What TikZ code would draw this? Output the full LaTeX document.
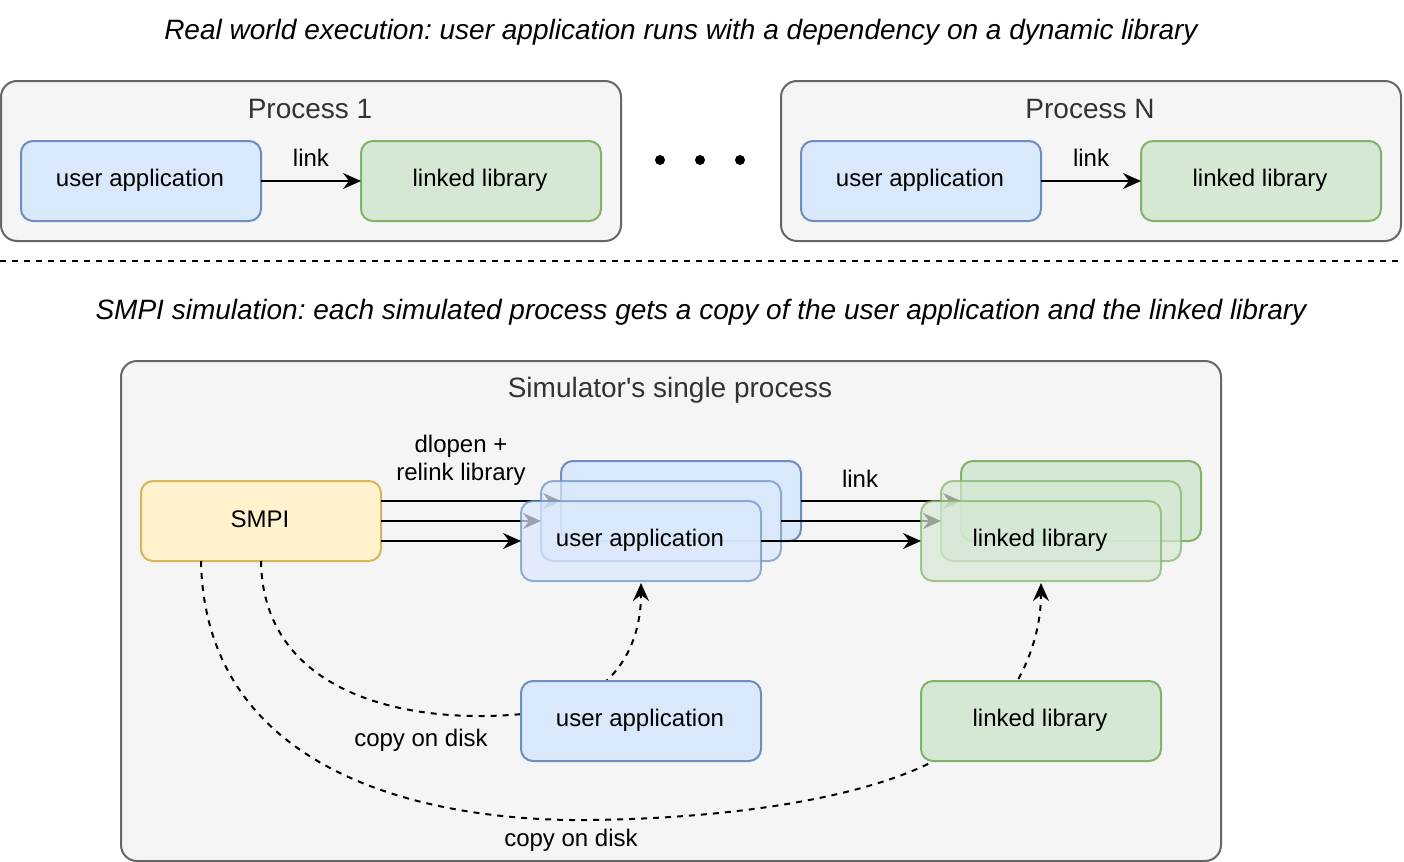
\documentclass[tikz,border=0pt]{standalone}
\usepackage{fontspec}
\setmainfont{Liberation Sans}
\usetikzlibrary{arrows.meta,calc}
\definecolor{procfill}{HTML}{F5F5F5}
\definecolor{procdraw}{HTML}{666666}
\definecolor{proctext}{HTML}{333333}
\definecolor{bluefill}{HTML}{DAE8FC}
\definecolor{bluedraw}{HTML}{6C8EBF}
\definecolor{greenfill}{HTML}{D5E8D4}
\definecolor{greendraw}{HTML}{82B366}
\definecolor{yellowfill}{HTML}{FFF2CC}
\definecolor{yellowdraw}{HTML}{D6B656}
\frenchspacing
\begin{document}
\begin{tikzpicture}[x=0.5pt,y=-0.5pt,line width=1pt,
  every node/.style={font=\fontsize{12pt}{14pt}\selectfont,inner sep=0pt,outer sep=0pt},
  cont/.style={draw=procdraw,fill=procfill,rounded corners=8pt},
  ctitle/.style={text=proctext,font=\fontsize{14pt}{16pt}\selectfont},
  ttl/.style={font=\fontsize{14pt}{16pt}\selectfont\itshape},
  appbox/.style={draw=bluedraw,fill=bluefill,rounded corners=6pt,minimum width=120pt,minimum height=40pt},
  libbox/.style={draw=greendraw,fill=greenfill,rounded corners=6pt,minimum width=120pt,minimum height=40pt},
  smpibox/.style={draw=yellowdraw,fill=yellowfill,rounded corners=6pt,minimum width=120pt,minimum height=40pt},
  ghost/.style={opacity=0.7},
  conn/.style={-{Stealth[length=9pt,width=8pt,inset=3pt]}},
  dashedline/.style={dash pattern=on 3pt off 3pt},
  dot/.style={circle,fill=black,minimum size=5pt}]
\useasboundingbox (0,0) rectangle (1404,862);

% top title
\node[ttl] (t1) at (681,32.5) {Real world execution: user application runs with a dependency on a dynamic library};

% Process 1
\node[cont,minimum width=310pt,minimum height=80pt] (p1) at (311,161) {};
\node[ctitle] (p1t) at (310,109) {Process 1};
\node[appbox] (ua1) at (141,181) {};
\node (ua1t) at (140,180) {user application};
\node[libbox] (ll1) at (481,181) {};
\node (ll1t) at (480,180) {linked library};
\draw[conn] (ua1) -- (ll1);
\node (lk1) at (311,158) {link};

% dots
\node[dot] (d1) at (660,160) {};
\node[dot] (d2) at (700,160) {};
\node[dot] (d3) at (740,160) {};

% Process N
\node[cont,minimum width=310pt,minimum height=80pt] (pn) at (1091,161) {};
\node[ctitle] (pnt) at (1090,109) {Process N};
\node[appbox] (uan) at (921,181) {};
\node (uant) at (920,180) {user application};
\node[libbox] (lln) at (1261,181) {};
\node (llnt) at (1260,180) {linked library};
\draw[conn] (uan) -- (lln);
\node (lkn) at (1091,158) {link};

% separator
\coordinate (sepL) at (0,261);
\coordinate (sepR) at (1404,261);
\draw[dashedline] (sepL) -- (sepR);

% second title
\node[ttl] (t2) at (701,312.5) {SMPI simulation: each simulated process gets a copy of the user application and the linked library};

% simulator
\node[cont,minimum width=550pt,minimum height=250pt] (sim) at (671,611) {};
\node[ctitle] (simt) at (670,390) {Simulator\textquotesingle s single process};

\node[smpibox] (smpi) at (261,521) {};
\node (smpit) at (260,519) {SMPI};

% disk copies curves (drawn below boxes)
\draw[dashedline,conn] (smpi.south) .. controls (263,700) and (420,728) .. (540,712)
   .. controls (620,697) and (641,640) .. (641,583) coordinate (ua_tip);
\coordinate (smpiq) at ($(smpi.south west)!0.25!(smpi.south east)$);
\draw[dashedline,conn] (smpiq) .. controls (205,770) and (420,822) .. (590,820)
   .. controls (760,818) and (900,790) .. (960,745)
   .. controls (1010,710) and (1041,650) .. (1041,583) coordinate (ll_tip);

\node[appbox] (uad) at (641,721) {};
\node (uadt) at (640,720) {user application};
\node[libbox] (lld) at (1041,721) {};
\node (lldt) at (1040,720) {linked library};
\node (cod1) at (421,740) {copy on disk};
\node (cod2) at (571,840) {copy on disk};

% stacks: back
\node[appbox] (appback) at (681,501) {};
\node[libbox] (libback) at (1081,501) {};
\draw[conn] (smpi.east |- appback.west) -- (appback.west);
\draw[conn] (appback.east) -- (libback.west);
% middle
\node[appbox,ghost] (appmid) at (661,521) {};
\node[libbox,ghost] (libmid) at (1061,521) {};
\draw[conn] (smpi.east) -- (appmid.west);
\draw[conn] (appmid.east) -- (libmid.west);
% front
\node[appbox,ghost] (appfront) at (641,541) {};
\node[libbox,ghost] (libfront) at (1041,541) {};
\node (appfrontt) at (640,540) {user application};
\node (libfrontt) at (1040,540) {linked library};
\draw[conn] (smpi.east |- appfront.west) -- (appfront.west);
\draw[conn] (appfront.east) -- (libfront.west);

\node[align=center] (dl) at (461,460) {dlopen +\\relink library};
\node (lks) at (860,479) {link};
\end{tikzpicture}
\end{document}
